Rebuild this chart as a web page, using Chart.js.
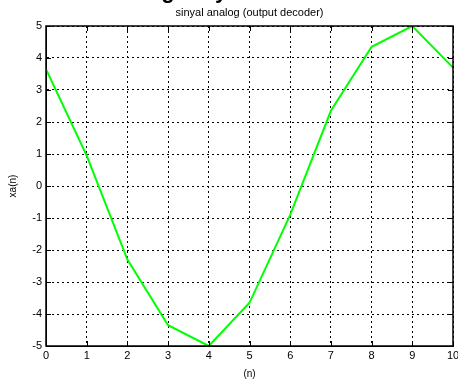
<!DOCTYPE html>
<html>
<head>
<meta charset="utf-8">
<script src="https://cdn.jsdelivr.net/npm/chart.js@4/dist/chart.umd.min.js"></script>
<style>
  html, body { margin: 0; padding: 0; background: #fff; }
  #wrap { width: 458px; height: 380px; }
</style>
</head>
<body>
<div id="wrap"><canvas id="decoderChart" width="458" height="380"></canvas></div>
<script>
// sample index n and reconstructed analog values xa(n)
const nValues = [0, 1, 2, 3, 4, 5, 6, 7, 8, 9, 10]
const xaValues = [3.65, 0.95, -2.3, -4.35, -5, -3.65, -0.9, 2.35, 4.35, 5, 3.7]

const chartTitle = 'sinyal analog (output decoder)'
const figureTitle = 'Decoding Sinyal'
const xLabel = '(n)'
const yLabel = 'xa(n)'

const FONT = 'Liberation Sans, Arial, sans-serif'

// box around the axes plus inward tick marks, and the titles on top
const framePlugin = {
  id: 'frame',
  afterDraw(chart) {
    const {ctx, chartArea: a, scales} = chart
    ctx.save()
    ctx.strokeStyle = '#000'
    ctx.lineWidth = 1.5
    ctx.setLineDash([])
    ctx.strokeRect(a.left, a.top, a.right - a.left, a.bottom - a.top)

    ctx.lineWidth = 1
    ctx.beginPath()
    scales.x.ticks.forEach(t => {
      const px = Math.round(scales.x.getPixelForValue(t.value)) + 0.5
      ctx.moveTo(px, a.bottom); ctx.lineTo(px, a.bottom - 5)
      ctx.moveTo(px, a.top); ctx.lineTo(px, a.top + 5)
    })
    scales.y.ticks.forEach(t => {
      const py = Math.round(scales.y.getPixelForValue(t.value)) + 0.5
      ctx.moveTo(a.left, py); ctx.lineTo(a.left + 5, py)
      ctx.moveTo(a.right, py); ctx.lineTo(a.right - 5, py)
    })
    ctx.stroke()

    ctx.fillStyle = '#000'
    ctx.textAlign = 'center'
    ctx.textBaseline = 'alphabetic'
    ctx.font = '11px ' + FONT
    ctx.fillText(chartTitle, (a.left + a.right) / 2, 16)

    // large figure title, mostly above the visible area
    ctx.font = 'bold 22px ' + FONT
    ctx.fillText(figureTitle, 160, -2)
    ctx.restore()
  }
}

const ctx = document.getElementById('decoderChart').getContext('2d')

new Chart(ctx, {
  type: 'line',
  data: {
    datasets: [{
      data: nValues.map((n, i) => ({x: n, y: xaValues[i]})),
      borderColor: '#00ff00',
      borderWidth: 2,
      pointRadius: 0,
      tension: 0,
      fill: false
    }]
  },
  options: {
    responsive: false,
    animation: false,
    layout: {padding: {left: 0, right: 5, top: 26, bottom: 0}},
    plugins: {legend: {display: false}, tooltip: {enabled: false}},
    scales: {
      x: {
        type: 'linear',
        min: 0,
        max: 10,
        ticks: {stepSize: 1, color: '#000', padding: 3, maxRotation: 0, font: {family: FONT, size: 11}},
        grid: {color: '#000', lineWidth: 1, drawTicks: false},
        border: {display: true, color: '#000', width: 1, dash: [2, 3]},
        title: {display: true, text: xLabel, color: '#000', padding: {top: 1, bottom: 0}, font: {family: FONT, size: 10}},
        afterFit(scale) {
          scale.height = 34
          scale.paddingLeft = 0
          scale.paddingRight = 0
        }
      },
      y: {
        min: -5,
        max: 5,
        ticks: {stepSize: 1, color: '#000', padding: 4, font: {family: FONT, size: 11}},
        grid: {color: '#000', lineWidth: 1, drawTicks: false},
        border: {display: true, color: '#000', width: 1, dash: [2, 3]},
        title: {display: true, text: yLabel, color: '#000', padding: {top: 7, bottom: 0}, font: {family: FONT, size: 10}},
        afterFit(scale) {
          scale.width = 46
          scale.paddingTop = 0
          scale.paddingBottom = 0
        }
      }
    }
  },
  plugins: [framePlugin]
})
</script>
</body>
</html>
